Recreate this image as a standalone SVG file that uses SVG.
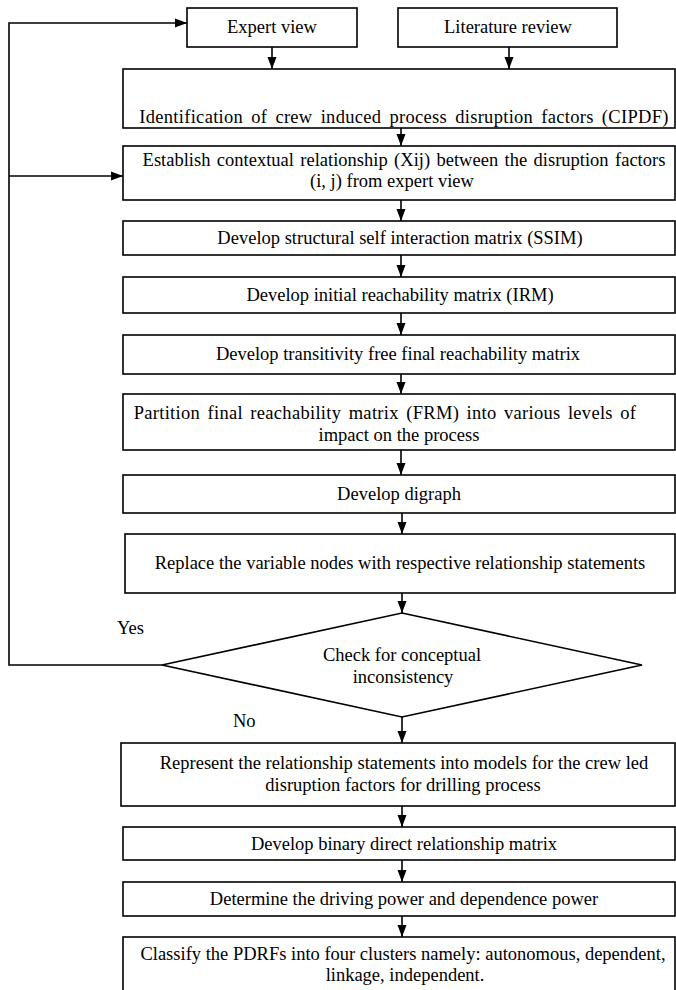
<svg xmlns="http://www.w3.org/2000/svg" width="676" height="990" viewBox="0 0 676 990">
<style>
.box{fill:#fff;stroke:#000;stroke-width:1.6}
.t{font-family:"Liberation Serif","Times New Roman",serif;font-size:18.5px;fill:#000;text-anchor:middle}
.l{font-family:"Liberation Serif","Times New Roman",serif;font-size:18.5px;fill:#000}
.c{fill:none;stroke:#000;stroke-width:1.6}
</style>
<defs>
<marker id="ah" markerUnits="userSpaceOnUse" markerWidth="12" markerHeight="12" viewBox="0 0 12 12" refX="12" refY="6" orient="auto">
<path d="M0,1.5 L12,6 L0,10.5 Z" fill="#000"/>
</marker>
</defs>
<rect width="676" height="990" fill="#fff"/>
<g id="connectors">
<path class="c" d="M272,47 V69" marker-end="url(#ah)"/>
<path class="c" d="M509,47 V69" marker-end="url(#ah)"/>
<path class="c" d="M401,128 V146" marker-end="url(#ah)"/>
<path class="c" d="M401,200 V221" marker-end="url(#ah)"/>
<path class="c" d="M401,255 V277" marker-end="url(#ah)"/>
<path class="c" d="M401,313 V335" marker-end="url(#ah)"/>
<path class="c" d="M401,374 V394" marker-end="url(#ah)"/>
<path class="c" d="M401,450 V475" marker-end="url(#ah)"/>
<path class="c" d="M402,513 V534" marker-end="url(#ah)"/>
<path class="c" d="M402,593 V613" marker-end="url(#ah)"/>
<path class="c" d="M402,717 V743" marker-end="url(#ah)"/>
<path class="c" d="M402,806 V827" marker-end="url(#ah)"/>
<path class="c" d="M402,860 V882" marker-end="url(#ah)"/>
<path class="c" d="M402,916 V937" marker-end="url(#ah)"/>
<path class="c" d="M162,665 H9 V23 H187" marker-end="url(#ah)"/>
<path class="c" d="M9,176 H123" marker-end="url(#ah)"/>
<text class="l" x="117" y="634">Yes</text>
<text class="l" x="233" y="727">No</text>
</g>
<g id="expert">
<rect class="box" x="187" y="8" width="170" height="39"/>
<text class="t" x="272" y="33">Expert view</text>
</g>
<g id="literature">
<rect class="box" x="398" y="8" width="219" height="39"/>
<text class="t" x="508" y="33">Literature review</text>
</g>
<g id="cipdf">
<rect class="box" x="123" y="69" width="552" height="59"/>
<text class="t" x="404" y="123" letter-spacing="0.3" word-spacing="3.2">Identification of crew induced process disruption factors (CIPDF)</text>
</g>
<g id="establish">
<rect class="box" x="123" y="146" width="552" height="54"/>
<text class="t" x="404" y="166" word-spacing="1.8">Establish contextual relationship (Xij) between the disruption factors</text>
<text class="t" x="392" y="187">(i, j) from expert view</text>
</g>
<g id="ssim">
<rect class="box" x="123" y="221" width="552" height="34"/>
<text class="t" x="400" y="244">Develop structural self interaction matrix (SSIM)</text>
</g>
<g id="irm">
<rect class="box" x="123" y="277" width="552" height="36"/>
<text class="t" x="400" y="301">Develop initial reachability matrix (IRM)</text>
</g>
<g id="transitivity">
<rect class="box" x="123" y="335" width="552" height="39"/>
<text class="t" x="398" y="360">Develop transitivity free final reachability matrix</text>
</g>
<g id="partition">
<rect class="box" x="123" y="394" width="552" height="56"/>
<text class="t" x="385" y="419" letter-spacing="0.3" word-spacing="2.5">Partition final reachability matrix (FRM) into various levels of</text>
<text class="t" x="399" y="441">impact on the process</text>
</g>
<g id="digraph">
<rect class="box" x="123" y="475" width="552" height="38"/>
<text class="t" x="399" y="500">Develop digraph</text>
</g>
<g id="replace">
<rect class="box" x="125" y="534" width="550" height="59"/>
<text class="t" x="400" y="569">Replace the variable nodes with respective relationship statements</text>
</g>
<g id="check">
<polygon class="box" points="402,613 642,665 402,717 162,665"/>
<text class="t" x="402" y="661">Check for conceptual</text>
<text class="t" x="403" y="683">inconsistency</text>
</g>
<g id="represent">
<rect class="box" x="121" y="743" width="554" height="63"/>
<text class="t" x="404" y="769">Represent the relationship statements into models for the crew led</text>
<text class="t" x="403" y="791">disruption factors for drilling process</text>
</g>
<g id="binary">
<rect class="box" x="123" y="827" width="552" height="33"/>
<text class="t" x="404" y="850">Develop binary direct relationship matrix</text>
</g>
<g id="determine">
<rect class="box" x="123" y="882" width="552" height="34"/>
<text class="t" x="404" y="905">Determine the driving power and dependence power</text>
</g>
<g id="classify">
<rect class="box" x="123" y="937" width="552" height="60"/>
<text class="t" x="403" y="960">Classify the PDRFs into four clusters namely: autonomous, dependent,</text>
<text class="t" x="405" y="981">linkage, independent.</text>
</g>
</svg>
